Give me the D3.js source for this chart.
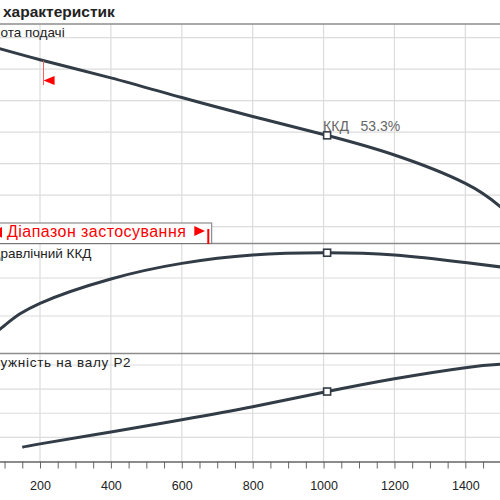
<!DOCTYPE html>
<html lang="uk">
<head>
<meta charset="utf-8">
<title>Криві характеристик насоса</title>
<style>
  body { margin: 0; background: #fff; }
  svg { display: block; font-family: "Liberation Sans", Arial, sans-serif; }
  .grid line { stroke: #dcdcdc; stroke-width: 1.2; }
  .sep { stroke: #8c8c8c; stroke-width: 1.6; }
  .curve { fill: none; stroke: #323c46; stroke-width: 3; }
  .duty { fill: #fff; stroke: #323c46; stroke-width: 1.6; }
  .lbl { font-size: 13.5px; fill: #222; }
  .axis path, .axis line { stroke: #666; }
  .axis text { font-size: 12.5px; fill: #222; font-family: "Liberation Sans", Arial, sans-serif; }
</style>
<script src="https://cdn.jsdelivr.net/npm/d3@7"></script>
</head>
<body>
<svg width="500" height="500"></svg>
<script>
// flow axis (ticks every 50, labels every 200)
var qLabels = [200, 400, 600, 800, 1000, 1200, 1400];
var qTicks = d3.range(0, 1501, 50);

// head curve
var qHead = [0, 200, 400, 600, 800, 1000, 1200, 1400, 1500];
var head  = [19.85, 18.6, 17.45, 16.2, 15.0, 13.85, 12.55, 10.75, 9.25];
// hydraulic efficiency, %
var qEff = [0, 100, 200, 400, 600, 800, 1000, 1200, 1400, 1500];
var eff  = [0, 15.0, 26.7, 39.5, 47.7, 52.1, 53.3, 52.1, 48.1, 45.8];
// shaft power P2
var qP2 = [150, 200, 400, 600, 800, 1000, 1200, 1400, 1500];
var p2  = [0.59, 0.73, 1.22, 1.73, 2.27, 2.87, 3.43, 3.89, 4.03];

// duty point
var dutyQ = 1010, dutyH = 13.8, dutyEff = 53.3, dutyP2 = 2.9;
// left limit of the range of use
var rangeMin = 210;

// horizontal grid values per panel
var headGrid = [8, 10, 12, 14, 16, 18, 20];
var effGrid = [20, 40];
var p2Grid = [1, 2, 3, 4];

var svg = d3.select("svg");

var x = d3.scaleLinear().domain([0, 1500]).range([-30.9, 500.8]);
var yH = d3.scaleLinear().domain([8, 20]).range([226.7, 37.7]);
var yE = d3.scaleLinear().domain([0, 60]).range([354, 240]);
var yP = d3.scaleLinear().domain([0, 4]).range([461.5, 365]);

// grid
var grid = svg.append("g").attr("class", "grid");
grid.selectAll(".v").data(qLabels).enter().append("line")
    .attr("x1", x).attr("x2", x).attr("y1", 24).attr("y2", 461.5);
function hgrid(vals, sc) {
  grid.selectAll(null).data(vals).enter().append("line")
      .attr("x1", 0).attr("x2", 500)
      .attr("y1", sc).attr("y2", sc);
}
hgrid(headGrid, yH);
hgrid(effGrid, yE);
hgrid(p2Grid, yP);

// title + panel separators
svg.append("text").attr("x", 3).attr("y", 17)
    .attr("font-size", 15.5).attr("font-weight", "bold").attr("fill", "#222")
    .text("характеристик");
[24, 243.5, 353.5].forEach(function (y) {
  svg.append("line").attr("class", "sep")
      .attr("x1", 0).attr("x2", 500).attr("y1", y).attr("y2", y);
});

// panel labels, left part cut by the edge
function panelLabel(txt, hidden, y, spacing) {
  var t = svg.append("text").attr("class", "lbl").attr("y", y)
      .attr("letter-spacing", spacing).text(txt);
  var w = t.node().getSubStringLength(0, hidden);
  t.attr("x", -w + 0.5);
}
panelLabel("Висота подачі", 3, 37, 0);
panelLabel("Гідравлічний ККД", 3, 258, 0);
panelLabel("Потужність на валу P2", 3, 366.5, 0.7);

// curves
function curve(qs, vs, sc) {
  var line = d3.line()
      .x(function (d, i) { return x(qs[i]); })
      .y(function (d) { return sc(d); })
      .curve(d3.curveNatural);
  svg.append("path").attr("class", "curve").attr("d", line(vs));
}
curve(qHead, head, yH);
curve(qEff, eff, yE);
curve(qP2, p2, yP);

// range of use marker
var hAtMin = d3.scaleLinear().domain(qHead).range(head)(rangeMin);
svg.append("line")
    .attr("x1", x(rangeMin)).attr("x2", x(rangeMin))
    .attr("y1", yH(hAtMin)).attr("y2", 85)
    .attr("stroke", "#ff5a5a").attr("stroke-width", 1);
svg.append("path")
    .attr("d", "M" + x(rangeMin) + ",80.5 l11,-4.5 v9 z")
    .attr("fill", "#ff0000");

// range legend box
var box = svg.append("g");
box.append("rect").attr("x", -20).attr("y", 223).attr("width", 231.7).attr("height", 20.5)
    .attr("fill", "#fff").attr("stroke", "#777").attr("stroke-width", 1);
box.append("path").attr("d", "M2,227 v10.7 l-11,-5.35 z").attr("fill", "#ff0000");
box.append("text").attr("x", 7).attr("y", 237)
    .attr("font-size", 16).attr("letter-spacing", 0.45).attr("fill", "#ff0000")
    .text("Діапазон застосування");
box.append("path").attr("d", "M194.3,226 v10 l10.7,-5 z").attr("fill", "#ff0000");
box.append("rect").attr("x", 207.3).attr("y", 229).attr("width", 2).attr("height", 15)
    .attr("fill", "#ff0000");

// duty point markers
[[dutyH, yH], [dutyEff, yE], [dutyP2, yP]].forEach(function (p) {
  svg.append("rect").attr("class", "duty")
      .attr("x", x(dutyQ) - 3.5).attr("y", p[1](p[0]) - 3.5)
      .attr("width", 7).attr("height", 7);
});
svg.append("text")
    .attr("x", x(dutyQ) - 4).attr("y", yH(dutyH) - 4.5)
    .attr("font-size", 14).attr("fill", "#666")
    .attr("xml:space", "preserve")
    .text("ККД   " + dutyEff + "%");

// flow axis
var axis = svg.append("g").attr("class", "axis")
    .attr("transform", "translate(0,461.5)")
    .call(d3.axisBottom(x).tickValues(qTicks).tickSize(7).tickPadding(12.5)
      .tickFormat(function (d) { return qLabels.indexOf(d) >= 0 ? d : ""; }));
axis.select(".domain").attr("stroke-width", 1.5);
</script>
</body>
</html>
